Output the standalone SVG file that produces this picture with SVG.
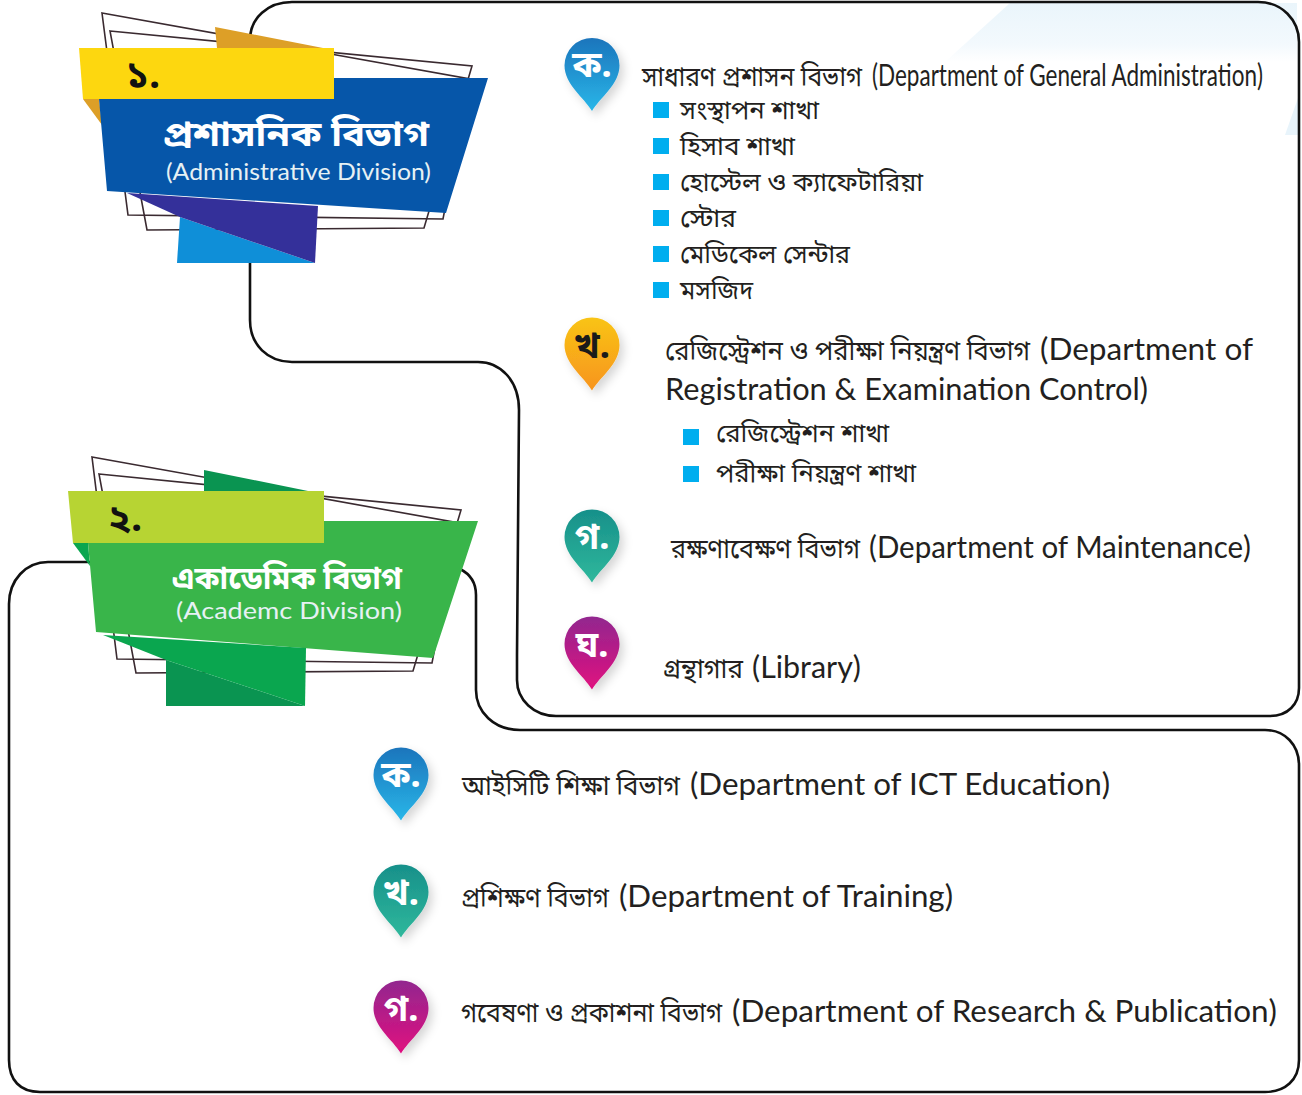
<svg xmlns="http://www.w3.org/2000/svg" width="1302" height="1095" viewBox="0 0 1302 1095">
<style>
.t{font-family:"Noto Sans Bengali","Noto Sans",sans-serif;fill:#231f20;font-size:27px}
.s{font-size:26px}
.l{font-family:"Lato","Noto Sans",sans-serif;font-size:30px}
.pl{font-family:"Noto Sans Bengali","Noto Sans",sans-serif;font-weight:700;fill:#fff;font-size:36px;text-anchor:middle}
.fr{fill:none;stroke:#3a2a30;stroke-width:1.6}
.box{fill:none;stroke:#111;stroke-width:2.6}
.b{fill:#00aeef}
.hd{font-family:"Noto Sans Bengali","Noto Sans",sans-serif;font-weight:700;fill:#fff;font-size:34px}
.sub{font-family:"Lato","Noto Sans",sans-serif;font-weight:400;fill:#e6f1f4;font-size:24px}
.num{font-family:"Noto Sans Bengali","Noto Sans",sans-serif;font-weight:700;fill:#111;font-size:38px}
</style>
<defs>
<linearGradient id="gB" x1="0" y1="0" x2="0" y2="1"><stop offset="0" stop-color="#1c75bc"/><stop offset="1" stop-color="#29b6e8"/></linearGradient>
<linearGradient id="gO" x1="0" y1="0" x2="0" y2="1"><stop offset="0" stop-color="#f9c416"/><stop offset="1" stop-color="#f7941d"/></linearGradient>
<linearGradient id="gT" x1="0" y1="0" x2="0" y2="1"><stop offset="0" stop-color="#17908a"/><stop offset="1" stop-color="#2fb89c"/></linearGradient>
<linearGradient id="gM" x1="0" y1="0" x2="0" y2="1"><stop offset="0" stop-color="#92278f"/><stop offset="1" stop-color="#e0107f"/></linearGradient>
<linearGradient id="pale" x1="0" y1="0" x2="0" y2="1"><stop offset="0" stop-color="#eaf5fb"/><stop offset=".7" stop-color="#f3f9fd"/><stop offset="1" stop-color="#ffffff"/></linearGradient>
<filter id="sh" x="-40%" y="-20%" width="180%" height="150%"><feDropShadow dx="4" dy="5" stdDeviation="5" flood-color="#000" flood-opacity=".16"/></filter>
<path id="pin" d="M0 44.500C-8 31-27.500 18-27.500 -1A27.500 27.500 0 0 1 27.500 -1C27.500 18 8 31 0 44.500Z"/>
</defs>
<rect width="1302" height="1095" fill="#fff"/>
<path d="M945 62L1010 3H1297V62Z" fill="url(#pale)"/>
<path d="M1285 135L1298 98V135Z" fill="#e8f4fb"/>
<g id="connectors">
<path class="box" d="M250 40C250 18 268 2 292 2H1258C1282 2 1299 20 1299 42V688C1299 704 1288 716 1270 716H556C534 716 517 700 517 680V655L519 410C519 380 500 362 478 362H292C268 362 250 345 250 320V255"/>
<path class="box" d="M90 562H48C26 562 9 580 9 604V1060C9 1080 20 1092 40 1092H1265C1285 1092 1299 1080 1299 1060V765C1299 745 1285 730 1265 730H520C494 730 476 712 476 690V595C476 582 470 574 460 569"/>
</g>
<g id="banner-1">
<path class="fr" d="M102 13L470 79L443 219L128 215Z"/>
<path class="fr" d="M110 31L472 66L424 228L147 230Z"/>
<path d="M215 27L323 48H217Z" fill="#dd9f27"/>
<path d="M83 99H99L102 125Z" fill="#dd9f27"/>
<path d="M99 99H334V78H488L446 213L107 191Z" fill="#0656a9"/>
<path d="M180 217L177 263H315Z" fill="#0f8fd8"/>
<path d="M127 193L318 206L315 263L180 217Z" fill="#34309a"/>
<path d="M79 48H334V99H83Z" fill="#fdd70f"/>
<text class="num" x="126" y="88">১.</text>
<text class="hd" x="163" y="146" textLength="266" lengthAdjust="spacingAndGlyphs">প্রশাসনিক বিভাগ</text>
<text class="sub" x="166" y="180" textLength="265" lengthAdjust="spacingAndGlyphs">(Administrative Division)</text>
</g>
<g id="banner-2">
<path class="fr" d="M92 457L459 523L432 663L117 659Z"/>
<path class="fr" d="M99 474L461 510L413 671L136 673Z"/>
<path d="M204 470L308 491H204Z" fill="#0a9451"/>
<path d="M73 543H88L90 566Z" fill="#0aa64f"/>
<path d="M88 543H324V521H478L433 658L96 632Z" fill="#39b54a"/>
<path d="M166 660L166 706H305Z" fill="#0a9451"/>
<path d="M103 635L306 648L305 706L166 660Z" fill="#0aa64f"/>
<path d="M68 491H324V543H73Z" fill="#b7d433"/>
<text class="num" x="108" y="531">২.</text>
<text class="hd" x="172" y="589" textLength="230" lengthAdjust="spacingAndGlyphs" style="font-size:31px">একাডেমিক বিভাগ</text>
<text class="sub" x="176" y="619" textLength="226" lengthAdjust="spacingAndGlyphs" style="font-size:23px">(Academc Division)</text>
</g>
<g id="admin-ka">
<use href="#pin" x="592" y="66.500" fill="url(#gB)" filter="url(#sh)"/>
<text class="pl" x="592" y="77">ক.</text>
<text class="t" x="642" y="86"><tspan x="642" textLength="220" lengthAdjust="spacingAndGlyphs">সাধারণ প্রশাসন বিভাগ</tspan> <tspan class="l" x="872" textLength="391" lengthAdjust="spacingAndGlyphs">(Department of General Administration)</tspan></text>
<rect class="b" x="653" y="102" width="16" height="16"/><text class="t s" x="680" y="119" textLength="139" lengthAdjust="spacingAndGlyphs">সংস্থাপন শাখা</text>
<rect class="b" x="653" y="138" width="16" height="16"/><text class="t s" x="680" y="155" textLength="115" lengthAdjust="spacingAndGlyphs">হিসাব শাখা</text>
<rect class="b" x="653" y="174" width="16" height="16"/><text class="t s" x="680" y="191" textLength="243" lengthAdjust="spacingAndGlyphs">হোস্টেল ও ক্যাফেটারিয়া</text>
<rect class="b" x="653" y="210" width="16" height="16"/><text class="t s" x="680" y="227" textLength="56" lengthAdjust="spacingAndGlyphs">স্টোর</text>
<rect class="b" x="653" y="246" width="16" height="16"/><text class="t s" x="680" y="263" textLength="170" lengthAdjust="spacingAndGlyphs">মেডিকেল সেন্টার</text>
<rect class="b" x="653" y="282" width="16" height="16"/><text class="t s" x="680" y="299" textLength="73" lengthAdjust="spacingAndGlyphs">মসজিদ</text>
</g>
<g id="admin-kha">
<use href="#pin" x="592" y="346" fill="url(#gO)" filter="url(#sh)"/>
<text class="pl" x="592" y="358" style="fill:#1a1a1a">খ.</text>
<text class="t" x="665" y="360"><tspan x="665" textLength="365" lengthAdjust="spacingAndGlyphs">রেজিস্ট্রেশন ও পরীক্ষা নিয়ন্ত্রণ বিভাগ</tspan> <tspan class="l" x="1040" textLength="213" lengthAdjust="spacingAndGlyphs">(Department of</tspan></text>
<text class="t l" x="665" y="400" textLength="483" lengthAdjust="spacingAndGlyphs">Registration &amp; Examination Control)</text>
<rect class="b" x="683" y="429" width="16" height="16"/><text class="t s" x="716" y="442" textLength="173" lengthAdjust="spacingAndGlyphs">রেজিস্ট্রেশন শাখা</text>
<rect class="b" x="683" y="466" width="16" height="16"/><text class="t s" x="716" y="482" textLength="200" lengthAdjust="spacingAndGlyphs">পরীক্ষা নিয়ন্ত্রণ শাখা</text>
</g>
<g id="admin-ga">
<use href="#pin" x="592" y="538" fill="url(#gT)" filter="url(#sh)"/>
<text class="pl" x="592" y="549">গ.</text>
<text class="t" x="671" y="558"><tspan x="671" textLength="189" lengthAdjust="spacingAndGlyphs">রক্ষণাবেক্ষণ বিভাগ</tspan> <tspan class="l" x="869" textLength="382" lengthAdjust="spacingAndGlyphs">(Department of Maintenance)</tspan></text>
</g>
<g id="admin-gha">
<use href="#pin" x="592" y="645" fill="url(#gM)" filter="url(#sh)"/>
<text class="pl" x="592" y="657">ঘ.</text>
<text class="t" x="663" y="678"><tspan x="663" textLength="80" lengthAdjust="spacingAndGlyphs">গ্রন্থাগার</tspan> <tspan class="l" x="752" textLength="109" lengthAdjust="spacingAndGlyphs">(Library)</tspan></text>
</g>
<g id="acad-ka">
<use href="#pin" x="401" y="776" fill="url(#gB)" filter="url(#sh)"/>
<text class="pl" x="401" y="787">ক.</text>
<text class="t" x="462" y="795"><tspan x="462" textLength="218" lengthAdjust="spacingAndGlyphs">আইসিটি শিক্ষা বিভাগ</tspan> <tspan class="l" x="690" textLength="420" lengthAdjust="spacingAndGlyphs">(Department of ICT Education)</tspan></text>
</g>
<g id="acad-kha">
<use href="#pin" x="401" y="893" fill="url(#gT)" filter="url(#sh)"/>
<text class="pl" x="401" y="905">খ.</text>
<text class="t" x="461" y="907"><tspan x="461" textLength="148" lengthAdjust="spacingAndGlyphs">প্রশিক্ষণ বিভাগ</tspan> <tspan class="l" x="619" textLength="334" lengthAdjust="spacingAndGlyphs">(Department of Training)</tspan></text>
</g>
<g id="acad-ga">
<use href="#pin" x="401" y="1009" fill="url(#gM)" filter="url(#sh)"/>
<text class="pl" x="401" y="1021">গ.</text>
<text class="t" x="461" y="1022"><tspan x="461" textLength="261" lengthAdjust="spacingAndGlyphs">গবেষণা ও প্রকাশনা বিভাগ</tspan> <tspan class="l" x="732" textLength="545" lengthAdjust="spacingAndGlyphs">(Department of Research &amp; Publication)</tspan></text>
</g>
</svg>
